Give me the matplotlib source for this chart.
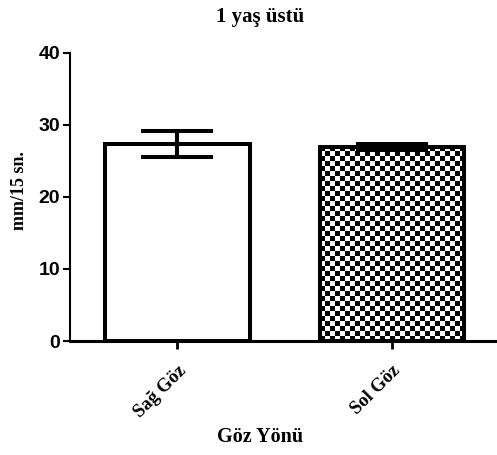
import numpy as np
import matplotlib
matplotlib.use("Agg")
import matplotlib.pyplot as plt

categories = ["Sağ Göz", "Sol Göz"]
means = [27.3, 26.9]
errors = [1.85, 0.35]
yticks = [0, 10, 20, 30, 40]
title = "1 yaş üstü"
xlabel = "Göz Yönü"
ylabel = "mm/15 sn."

DPI = 100
fig = plt.figure(figsize=(4.97, 4.55), dpi=DPI)
ax = fig.add_axes([70/497, 1-341/455, 1-70/497, (341-52.5)/455])

x = np.arange(len(categories))
bw = 0.675
bars = ax.bar(x, means, width=bw, facecolor="white", edgecolor="black",
              linewidth=2.9, zorder=2)
ax.errorbar(x, means, yerr=errors, fmt="none", ecolor="black",
            elinewidth=2.9, capsize=26, capthick=2.9, zorder=3)

ax.set_xlim(-0.501, 1.49)
ax.set_ylim(0, 40)

# checkerboard fill for second bar
b = bars[1]
p0 = ax.transData.transform((b.get_x(), 0))
p1 = ax.transData.transform((b.get_x() + b.get_width(), b.get_height()))
cell = 5.0
nx = max(1, int(round((p1[0]-p0[0])/cell)))
ny = max(1, int(round((p1[1]-p0[1])/cell)))
iy, ix = np.indices((ny, nx))
checker = ((ix + iy) % 2).astype(float)
im = ax.imshow(checker, cmap="gray", extent=(b.get_x(), b.get_x()+b.get_width(), 0, b.get_height()),
               aspect="auto", interpolation="nearest", zorder=1.5, origin="lower")
im.set_clip_path(b)
b.set_facecolor("none")

for s in ["top", "right"]:
    ax.spines[s].set_visible(False)
ax.spines["left"].set_linewidth(1.5)
ax.spines["bottom"].set_linewidth(2.2)

ax.set_yticks(yticks)
ax.set_yticklabels([str(v) for v in yticks], fontsize=14, fontweight="bold",
                   family="Liberation Sans")
ax.tick_params(axis="y", length=5, width=1.5, pad=2)
ax.tick_params(axis="x", length=6, width=2, pad=9)
ax.set_xticks(x)
ax.set_xticklabels(categories, rotation=45, ha="right", rotation_mode="anchor",
                   fontsize=13.5, fontweight="bold", family="Liberation Serif")

fig.text(260/497, 1-17/455, title, ha="center", va="center", fontsize=15,
         fontweight="bold", family="Liberation Serif")
fig.text(260/497, 1-437/455, xlabel, ha="center", va="center", fontsize=14.5,
         fontweight="bold", family="Liberation Serif")
fig.text(19/497, 1-191/455, ylabel, ha="center", va="center", rotation=90,
         fontsize=13, fontweight="bold", family="Liberation Serif")

fig.savefig("out.png", dpi=DPI)
